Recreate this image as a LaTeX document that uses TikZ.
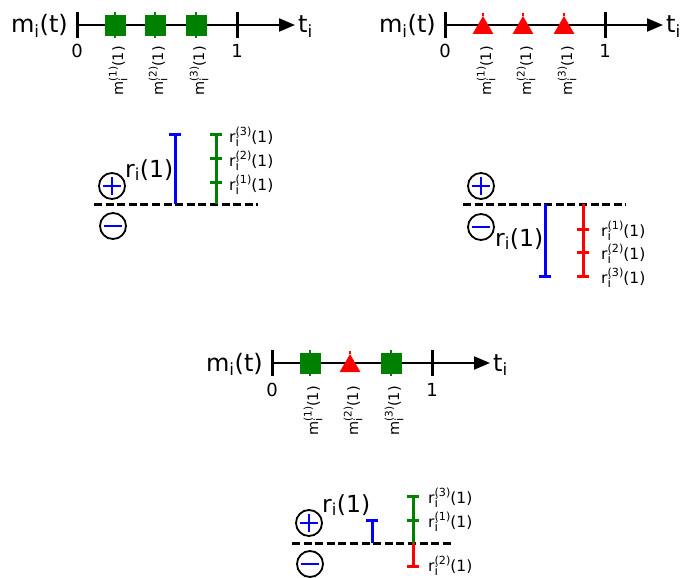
\documentclass[tikz,border=0pt]{standalone}
\usepackage{fontspec}
\usepackage{graphicx}
\setmainfont{DejaVu Sans}
\usetikzlibrary{arrows.meta,shapes.geometric}
\definecolor{dgreen}{RGB}{0,128,0}
\definecolor{mred}{RGB}{255,0,0}
\definecolor{mblue}{RGB}{0,0,255}
\newcommand\supsub[3]{#1\rlap{\raisebox{-0.28em}{\scalebox{0.8}{i}}}\raisebox{0.45em}{\scalebox{0.72}{(#2)}}(#3)}
\tikzset{
  axisarrow/.style={line width=2pt,-{Triangle[length=16pt,width=13pt]}},
  tickline/.style={line width=3pt},
  big/.style={font=\fontsize{24}{28}\selectfont,inner sep=0pt},
  bigr/.style={font=\fontsize{23.5}{28}\selectfont,inner sep=0pt,anchor=base west},
  num/.style={font=\fontsize{18}{20}\selectfont,inner sep=0pt,anchor=base},
  mlabel/.style={font=\fontsize{14.5}{18}\selectfont,rotate=90,anchor=east,inner sep=0pt},
  rlabel/.style={font=\fontsize{15.5}{18}\selectfont,anchor=base west,inner sep=0pt},
  sqmark/.style={fill=dgreen,minimum size=21pt,inner sep=0pt},
  trimark/.style={regular polygon,regular polygon sides=3,fill=mred,minimum size=24pt,inner sep=0pt},
  stub/.style={line width=1.5pt},
  zeroline/.style={line width=3pt,dash pattern=on 8pt off 3.6pt},
  sign/.style={circle,draw,line width=1.8pt,minimum size=26pt,inner sep=0pt},
  signbar/.style={mblue,line width=2pt},
  bar/.style={line width=3pt},
  capmark/.style={minimum width=12pt,minimum height=3pt,inner sep=0pt},
}
% #1 prefix, #2 zero x, #3 axis y (down positive)
\newcommand\mytimeline[3]{%
  \coordinate (#1z) at (#2,-#3);
  \coordinate (#1o) at ({#2+160},-#3);
  \coordinate (#1e) at ({#2+218},-#3);
  \draw[axisarrow] (#1z) -- (#1e);
  \draw[tickline] ([yshift=13pt]#1z) -- ([yshift=-13pt]#1z);
  \draw[tickline] ([yshift=13pt]#1o) -- ([yshift=-13pt]#1o);
  \node[num] (#1zl) at (#2,{-#3-33}) {0};
  \node[num] (#1ol) at ({#2+160},{-#3-33}) {1};
  \node[big,anchor=base east] (#1m) at ({#2-9},{-#3-8}) {m\textsubscript{i}(t)};
  \node[big,anchor=base west] (#1t) at ({#2+221},{-#3-8}) {t\textsubscript{i}};
}
% square marker: #1 name, #2 x, #3 axis y
\newcommand\mysq[3]{%
  \coordinate (#1a) at (#2,{-#3+13});
  \coordinate (#1b) at (#2,{-#3-13});
  \draw[stub,dgreen] (#1a) -- (#1b);
  \node[sqmark] (#1) at (#2,{-#3-0.5}) {};
}
\newcommand\mytri[3]{%
  \coordinate (#1a) at (#2,{-#3+12});
  \node[trimark] (#1) at (#2,{-#3-3}) {};
  \draw[stub,mred] (#1a) -- (#1.corner 1);
}
\begin{document}
\begin{tikzpicture}[x=1pt,y=1pt]
\useasboundingbox (0,0) rectangle (699,-578);

% ---------- panel 1 timeline ----------
\mytimeline{A}{77}{25}
\mysq{A1}{115}{25}
\mysq{A2}{155}{25}
\mysq{A3}{196}{25}
\node[mlabel] (A1l) at (118,-46) {\supsub{m}{1}{1}};
\node[mlabel] (A2l) at (158,-46) {\supsub{m}{2}{1}};
\node[mlabel] (A3l) at (199,-46) {\supsub{m}{3}{1}};

% ---------- panel 2 timeline ----------
\mytimeline{B}{445}{25}
\mytri{B1}{483}{25}
\mytri{B2}{523}{25}
\mytri{B3}{564}{25}
\node[mlabel] (B1l) at (486,-46) {\supsub{m}{1}{1}};
\node[mlabel] (B2l) at (526,-46) {\supsub{m}{2}{1}};
\node[mlabel] (B3l) at (567,-46) {\supsub{m}{3}{1}};

% ---------- panel 3 timeline ----------
\mytimeline{C}{272}{363}
\mysq{C1}{310}{363}
\mytri{C2}{350}{363}
\mysq{C3}{391}{363}
\node[mlabel] (C1l) at (313,-386) {\supsub{m}{1}{1}};
\node[mlabel] (C2l) at (353,-386) {\supsub{m}{2}{1}};
\node[mlabel] (C3l) at (394,-386) {\supsub{m}{3}{1}};

% ---------- panel 1 bars ----------
\coordinate (d1a) at (94,-204);
\coordinate (d1b) at (258,-204);
\draw[zeroline] (d1a) -- (d1b);
\node[sign] (p1) at (112,-186) {};
\draw[signbar] ([xshift=-9pt]p1.center) -- ([xshift=9pt]p1.center);
\draw[signbar] ([yshift=-9pt]p1.center) -- ([yshift=9pt]p1.center);
\node[sign] (n1) at (113,-226) {};
\draw[signbar] ([xshift=-9pt]n1.center) -- ([xshift=9pt]n1.center);
\node[bigr] (r1) at (125,-177) {r\textsubscript{i}(1)};
\coordinate (b1) at (175,-204);
\node[capmark,fill=mblue] (b1c) at (175,-134) {};
\draw[bar,mblue] (b1) -- (b1c.center);
\coordinate (g1) at (216,-204);
\node[capmark,fill=dgreen] (g1c3) at (216,-134) {};
\node[capmark,fill=dgreen] (g1c2) at (216,-158) {};
\node[capmark,fill=dgreen] (g1c1) at (216,-182) {};
\draw[bar,dgreen] (g1) -- (g1c3.center);
\node[rlabel] (g1l3) at (229,-142) {\supsub{r}{3}{1}};
\node[rlabel] (g1l2) at (229,-166) {\supsub{r}{2}{1}};
\node[rlabel] (g1l1) at (229,-190) {\supsub{r}{1}{1}};

% ---------- panel 2 bars ----------
\coordinate (d2a) at (463,-204);
\coordinate (d2b) at (626,-204);
\draw[zeroline] (d2a) -- (d2b);
\node[sign] (p2) at (481,-186) {};
\draw[signbar] ([xshift=-9pt]p2.center) -- ([xshift=9pt]p2.center);
\draw[signbar] ([yshift=-9pt]p2.center) -- ([yshift=9pt]p2.center);
\node[sign] (n2) at (481,-227) {};
\draw[signbar] ([xshift=-9pt]n2.center) -- ([xshift=9pt]n2.center);
\node[bigr] (r2) at (495,-246) {r\textsubscript{i}(1)};
\coordinate (b2) at (545,-204);
\node[capmark,fill=mblue] (b2c) at (545,-276) {};
\draw[bar,mblue] (b2) -- (b2c.center);
\coordinate (e2) at (583,-204);
\node[capmark,fill=mred] (e2c1) at (583,-229) {};
\node[capmark,fill=mred] (e2c2) at (583,-252) {};
\node[capmark,fill=mred] (e2c3) at (583,-276) {};
\draw[bar,mred] (e2) -- (e2c3.center);
\node[rlabel] (e2l1) at (601,-236) {\supsub{r}{1}{1}};
\node[rlabel] (e2l2) at (601,-259) {\supsub{r}{2}{1}};
\node[rlabel] (e2l3) at (601,-283) {\supsub{r}{3}{1}};

% ---------- panel 3 bars ----------
\coordinate (d3a) at (292,-543);
\coordinate (d3b) at (454,-543);
\draw[zeroline] (d3a) -- (d3b);
\node[sign] (p3) at (309,-523) {};
\draw[signbar] ([xshift=-9pt]p3.center) -- ([xshift=9pt]p3.center);
\draw[signbar] ([yshift=-9pt]p3.center) -- ([yshift=9pt]p3.center);
\node[sign] (n3) at (310,-564) {};
\draw[signbar] ([xshift=-9pt]n3.center) -- ([xshift=9pt]n3.center);
\node[bigr] (r3) at (322,-512) {r\textsubscript{i}(1)};
\coordinate (b3) at (372,-543);
\node[capmark,fill=mblue] (b3c) at (372,-520) {};
\draw[bar,mblue] (b3) -- (b3c.center);
\coordinate (g3) at (413,-543);
\node[capmark,fill=dgreen] (g3c3) at (413,-496) {};
\node[capmark,fill=dgreen] (g3c1) at (413,-520) {};
\draw[bar,dgreen] (g3) -- (g3c3.center);
\node[capmark,fill=mred] (g3c2) at (413,-566) {};
\draw[bar,mred] (g3) -- (g3c2.center);
\node[rlabel] (g3l3) at (428,-503) {\supsub{r}{3}{1}};
\node[rlabel] (g3l1) at (428,-527) {\supsub{r}{1}{1}};
\node[rlabel] (g3l2) at (428,-571) {\supsub{r}{2}{1}};
\end{tikzpicture}
\end{document}
